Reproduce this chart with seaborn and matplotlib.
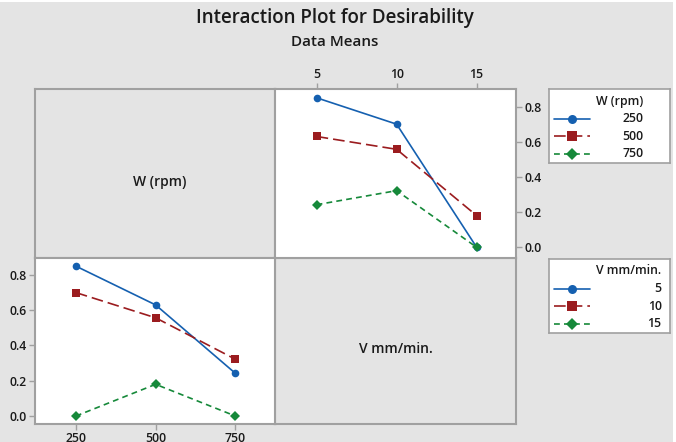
import matplotlib
matplotlib.use("Agg")
import matplotlib.pyplot as plt
from matplotlib.lines import Line2D
from matplotlib.patches import Rectangle
import seaborn as sns
import pandas as pd

# ---- data (cell means) ----
w_levels = [250, 500, 750]          # W (rpm)
v_levels = [5, 10, 15]              # V mm/min.
mean_w250 = [0.850, 0.700, 0.000]   # over V = 5, 10, 15
mean_w500 = [0.630, 0.557, 0.180]
mean_w750 = [0.242, 0.322, 0.000]
y_ticks = [0.0, 0.2, 0.4, 0.6, 0.8]

rows = []
for w, means in zip(w_levels, [mean_w250, mean_w500, mean_w750]):
    for v, m in zip(v_levels, means):
        rows.append({"W": w, "V": v, "mean": m})
df = pd.DataFrame(rows)

sns.set_theme(style="white")
plt.rcParams["font.family"] = ["Open Sans", "DejaVu Sans"]

BG = "#e4e4e4"
EDGE = "#a0a0a0"
TXT = "#1a1a1a"
colors = ["#1560b0", "#9b1c1f", "#16893a"]
markers = ["o", "s", "D"]
dashes = ["", (7, 3), (3.5, 2.5)]
msizes = [5.5, 5.5, 5.0]

W, H = 676, 442
fig = plt.figure(figsize=(W / 100, H / 100), dpi=100, facecolor=BG)

def fx(px):
    return px / W

def fy(py):
    return 1 - py / H

# white strips at the top and right edges of the original image
fig.patches.append(Rectangle((0, fy(2)), 1, 2 / H, transform=fig.transFigure,
                             facecolor="white", edgecolor="none", zorder=0))
fig.patches.append(Rectangle((fx(673), 0), 3 / W, 1, transform=fig.transFigure,
                             facecolor="white", edgecolor="none", zorder=0))

x0, xm, x1 = 35, 275, 516
y0, ym, y1 = 89, 258, 424

def box(ax):
    for s in ax.spines.values():
        s.set_visible(True)
        s.set_color(EDGE)
        s.set_linewidth(1.5)

# top-left label panel
ax_tl = fig.add_axes([fx(x0), fy(ym), fx(xm - x0), fy(y0) - fy(ym)], facecolor=BG)
ax_tl.set_xticks([]); ax_tl.set_yticks([]); box(ax_tl)
ax_tl.text(0.52, 0.45, "W (rpm)", transform=ax_tl.transAxes, ha="center", va="center",
           fontsize=10, fontweight="semibold", color=TXT)

# bottom-right label panel
ax_br = fig.add_axes([fx(xm), fy(y1), fx(x1 - xm), fy(ym) - fy(y1)], facecolor=BG)
ax_br.set_xticks([]); ax_br.set_yticks([]); box(ax_br)
ax_br.text(0.5, 0.45, "V mm/min.", transform=ax_br.transAxes, ha="center", va="center",
           fontsize=10, fontweight="semibold", color=TXT)

def draw(ax, x, hue, levels):
    for i, lv in enumerate(levels):
        sub = df[df[hue] == lv]
        sns.lineplot(data=sub, x=x, y="mean", ax=ax, color=colors[i], marker=markers[i],
                     markersize=msizes[i], markeredgewidth=0, linewidth=1.2,
                     legend=False, errorbar=None)
        if dashes[i]:
            ax.lines[-1].set_dashes(dashes[i])
    ax.set_xlabel(""); ax.set_ylabel("")
    box(ax)

LS = 8.8

# top-right: x = V, lines by W
ax_tr = fig.add_axes([fx(xm), fy(ym), fx(x1 - xm), fy(y0) - fy(ym)], facecolor="white")
draw(ax_tr, "V", "W", w_levels)
ax_tr.set_xlim(2.4, 17.46)
ax_tr.set_ylim(-0.061, 0.90)
ax_tr.set_xticks(v_levels)
ax_tr.set_xticklabels([str(v) for v in v_levels])
ax_tr.set_yticks(y_ticks)
ax_tr.set_yticklabels([f"{t:.1f}" for t in y_ticks])
ax_tr.xaxis.tick_top(); ax_tr.yaxis.tick_right()
ax_tr.tick_params(axis="both", which="both", direction="out", length=4, width=1,
                  color=EDGE, labelcolor=TXT, labelsize=LS, pad=2,
                  top=True, right=True, bottom=False, left=False)

# bottom-left: x = W, lines by V
ax_bl = fig.add_axes([fx(x0), fy(y1), fx(xm - x0), fy(ym) - fy(y1)], facecolor="white")
draw(ax_bl, "W", "V", v_levels)
ax_bl.set_xlim(122, 874)
ax_bl.set_ylim(-0.045, 0.896)
ax_bl.set_xticks(w_levels)
ax_bl.set_xticklabels([str(w) for w in w_levels])
ax_bl.set_yticks(y_ticks)
ax_bl.set_yticklabels([f"{t:.1f}" for t in y_ticks])
ax_bl.tick_params(axis="both", which="both", direction="out", length=4, width=1,
                  color=EDGE, labelcolor=TXT, labelsize=LS, pad=2,
                  bottom=True, left=True, top=False, right=False)

for ax in (ax_tr, ax_bl):
    for lbl in ax.get_xticklabels() + ax.get_yticklabels():
        lbl.set_fontweight("semibold")

# titles
fig.text(fx(335), fy(18), "Interaction Plot for Desirability", ha="center", va="center",
         fontsize=13.5, fontweight="semibold", color=TXT)
fig.text(fx(335), fy(42), "Data Means", ha="center", va="center",
         fontsize=11, fontweight="semibold", color=TXT)

# legends
renderer = fig.canvas.get_renderer()

def legend_box(top_px, title, labels):
    lx0, lx1 = 549, 670
    lh = 74
    lax = fig.add_axes([fx(lx0), fy(top_px + lh), fx(lx1 - lx0), lh / H], facecolor="white")
    lax.set_xlim(lx0, lx1); lax.set_ylim(top_px + lh, top_px)
    lax.set_xticks([]); lax.set_yticks([])
    for s in lax.spines.values():
        s.set_color(EDGE); s.set_linewidth(1.2)
    t = lax.text(596.5, top_px + 12, title, ha="left", va="center", fontsize=8.8,
                 fontweight="semibold", color=TXT)
    bb = t.get_window_extent(renderer=renderer)
    right_data = lax.transData.inverted().transform((bb.x1, bb.y0))[0]
    for i, lab in enumerate(labels):
        yy = top_px + 29.5 + i * 17.5
        ln = Line2D([554, 590], [yy, yy], color=colors[i], linewidth=1.2)
        if dashes[i]:
            ln.set_dashes(dashes[i])
        lax.add_line(ln)
        lax.plot([572], [yy], marker=markers[i], color=colors[i],
                 markersize=msizes[i] + 1, markeredgewidth=0, linestyle="none")
        lax.text(right_data, yy, lab, ha="right", va="center", fontsize=8.8,
                 fontweight="semibold", color=TXT)

legend_box(89, "W (rpm)", [str(w) for w in w_levels])
legend_box(259, "V mm/min.", [str(v) for v in v_levels])

fig.savefig("out.png", dpi=100, facecolor=BG)
